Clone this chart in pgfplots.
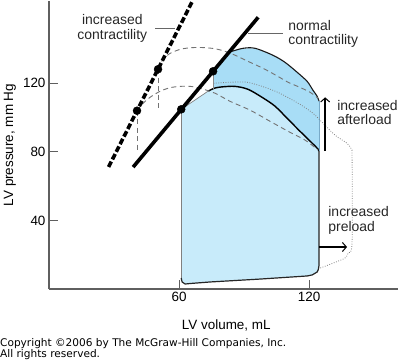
\documentclass[border=0pt]{standalone}
\usepackage{pgfplots}
\pgfplotsset{compat=1.18}
\usepackage{fontspec}
\setmainfont{Liberation Sans}
\newfontfamily\copyfont{DejaVu Sans}
\usetikzlibrary{arrows.meta}
\definecolor{lightA}{RGB}{200,235,250}
\definecolor{darkB}{RGB}{168,221,246}
\definecolor{axgray}{RGB}{95,95,95}
\definecolor{edgeB}{RGB}{120,170,200}
\begin{document}
\begin{tikzpicture}
\useasboundingbox (-49bp,-71bp) rectangle (350bp,289bp);
\begin{axis}[
  scale only axis, width=349bp, height=288bp,
  xmin=0, xmax=161, ymin=0, ymax=168,
  axis lines=left,
  axis line style={-, draw=axgray, line width=1.1bp},
  xtick={60,120}, ytick={40,80,120},
  tick align=inside, major tick length=9bp,
  tick style={draw=axgray, line width=1bp},
  ticklabel style={font=\fontsize{13.5}{16}\selectfont},
  /pgf/number format/assume math mode=true,
  xlabel={LV volume, mL}, ylabel={LV pressure, mm Hg},
  label style={font=\fontsize{13.5}{16}\selectfont},
  xlabel style={at={(axis description cs:0.508,-0.125)}, anchor=center},
  ylabel style={at={(axis description cs:-0.112,0.5)}, anchor=center},
  clip mode=individual,
]
% normal loop fill
\addplot[draw=none, fill=lightA] coordinates {(61,104.8) (73.5,115.5) (76.5,117.2) (79.8,117.9) (85.8,118.2) (91.8,116.5) (98.3,111.8) (104.3,106.6) (110.3,99.0) (115.8,92.0) (120.5,86.2) (124.2,81.5) (124.6,80.5) (124.6,14) (124.2,11.2) (123.7,9.9) (121.4,8.2) (119.1,7.6) (97.4,5.8) (74.3,4.1) (65.1,3.2) (62.8,2.9) (61.4,4.1) (61,6.4)} -- cycle;
% increased afterload fill
\addplot[draw=none, fill=darkB] coordinates {(75.7,127.0) (83,138.1) (89.5,140.4) (95.1,140.4) (103.4,136.3) (108.9,132.2) (114.5,126.4) (119.1,121.1) (121.8,115.9) (123.7,112.4) (124.6,109.5) (124.6,80.5) (124.2,81.5) (120.5,86.2) (115.8,92.0) (110.3,99.0) (104.3,106.6) (98.3,111.8) (91.8,116.5) (85.8,118.2) (79.8,117.9) (76.5,117.2) (75.7,116.8)} -- cycle;
% outlines
\addplot[black!50, line width=0.8bp] coordinates {(61,104.8) (61,6.4)};
\addplot[black!50, line width=0.7bp] coordinates {(61,104.8) (73.5,115.5)};
\addplot[black!85, line width=1.2bp] coordinates {(61,6.4) (61.4,4.1) (62.8,2.9) (65.1,3.2) (74.3,4.1) (97.4,5.8) (119.1,7.6) (121.4,8.2) (123.7,9.9) (124.2,11.2) (124.6,14) (124.6,80.5)};
\addplot[black, line width=1.4bp, smooth] coordinates {(73.5,115.5) (76.5,117.2) (79.8,117.9) (85.8,118.2) (91.8,116.5) (98.3,111.8) (104.3,106.6) (110.3,99.0) (115.8,92.0) (120.5,86.2) (124.2,81.5) (124.6,80.5)};
\addplot[black!90, line width=1.1bp, smooth] coordinates {(83,138.1) (89.5,140.4) (95.1,140.4) (103.4,136.3) (108.9,132.2) (114.5,126.4) (119.1,121.1) (121.8,115.9) (123.7,112.4) (124.6,109.5)};
\addplot[edgeB, line width=0.8bp] coordinates {(124.6,109.5) (124.6,80.5)};
\addplot[black!45, line width=0.8bp] coordinates {(75.7,127.0) (75.7,116.8)};
% increased contractility loops (dashed)
\addplot[black!55, line width=0.9bp, dash pattern=on 5bp off 3.5bp, smooth] coordinates {(40.6,104.0) (42.9,107.7) (46.6,111.8) (51.2,115.3) (55.8,117.4) (60.5,118.2) (65.1,118.2) (69.7,117.1) (76.6,114.2) (83.5,109.5) (92.8,104.3) (102.0,97.8) (111.2,91.4) (118.2,86.8) (124.2,81.0)};
\addplot[black!55, line width=0.9bp, dash pattern=on 5bp off 3.5bp] coordinates {(40.6,104.0) (40.6,81.0)};
\addplot[black!55, line width=0.9bp, dash pattern=on 5bp off 3.5bp, smooth] coordinates {(50.3,128.2) (52.6,134.0) (55.8,137.4) (60.5,139.8) (65.1,140.7) (69.7,140.9) (75.2,140.4) (79.8,139.2) (84.9,136.9) (91.8,132.8) (98.8,128.7) (104.8,124.6) (110.3,120.6) (115.8,117.6) (120.5,114.7) (124.2,111.2)};
\addplot[black!55, line width=0.9bp, dash pattern=on 5bp off 3.5bp] coordinates {(50.3,128.2) (50.3,103.5)};
% increased preload loop (dotted)
\addplot[black!50, line width=0.8bp, dash pattern=on 0.8bp off 1.6bp, smooth] coordinates {(75.9,120.0) (83.5,120.6) (91.4,120.6) (99.7,117.6) (106.6,114.1) (115.8,107.7) (121.8,102.5) (125.1,98.4) (132.0,89.7) (137.5,85.0) (139.8,81.0)};
\addplot[black!50, line width=0.8bp, dash pattern=on 0.8bp off 1.6bp, smooth] coordinates {(139.8,81.0) (139.8,26.8) (138.0,21.0) (136.6,18.1) (131.1,15.1) (125.1,12.2)};
% ESPVR lines
\addplot[black, line width=3.6bp] coordinates {(38.8,71.1) (96.5,158.5)};
\addplot[black, line width=3.6bp, dash pattern=on 6bp off 2.5bp] coordinates {(27.5,71.2) (66.2,168)};
\addplot[only marks, mark=*, mark size=4bp, black] coordinates {(61,104.8) (75.7,127.0) (40.6,104.0) (50.3,128.2)};
% arrows and annotations
\draw[black, line width=2bp, -{Straight Barb[length=4bp,width=9bp,line width=1bp]}] (axis cs:127.4,80.4) -- (axis cs:127.4,111.8);
\draw[black, line width=1.4bp, -{Straight Barb[length=4bp,width=9bp,line width=1bp]}] (axis cs:124.6,24.5) -- (axis cs:137.5,24.5);
\draw[black!60, line width=1.2bp] (axis cs:49,151.9) -- (axis cs:58.2,151.9);
\draw[black!60, line width=1.2bp] (axis cs:91.8,149.1) -- (axis cs:108,149.1);
\node[align=center, inner sep=0, font=\fontsize{14}{14.5}\selectfont, text=black!85] at (axis cs:29.2,151.9) {increased\\contractility};
\node[align=left, anchor=west, inner sep=0, font=\fontsize{14}{14.5}\selectfont, text=black!85] at (axis cs:110.3,148.8) {normal\\contractility};
\node[align=left, anchor=west, inner sep=0, font=\fontsize{14}{14.5}\selectfont, text=black!85] at (axis cs:132.9,102.8) {increased\\afterload};
\node[align=left, anchor=west, inner sep=0, font=\fontsize{14}{14.5}\selectfont, text=black!85] at (axis cs:128.8,39.9) {increased\\preload};
\end{axis}
\node[anchor=base west, inner sep=0, font=\copyfont\fontsize{10.6}{11}\selectfont] at (-49bp,-57bp) {Copyright ©2006 by The McGraw-Hill Companies, Inc.};
\node[anchor=base west, inner sep=0, font=\copyfont\fontsize{10.6}{11}\selectfont] at (-49bp,-68bp) {All rights reserved.};
\end{tikzpicture}
\end{document}
